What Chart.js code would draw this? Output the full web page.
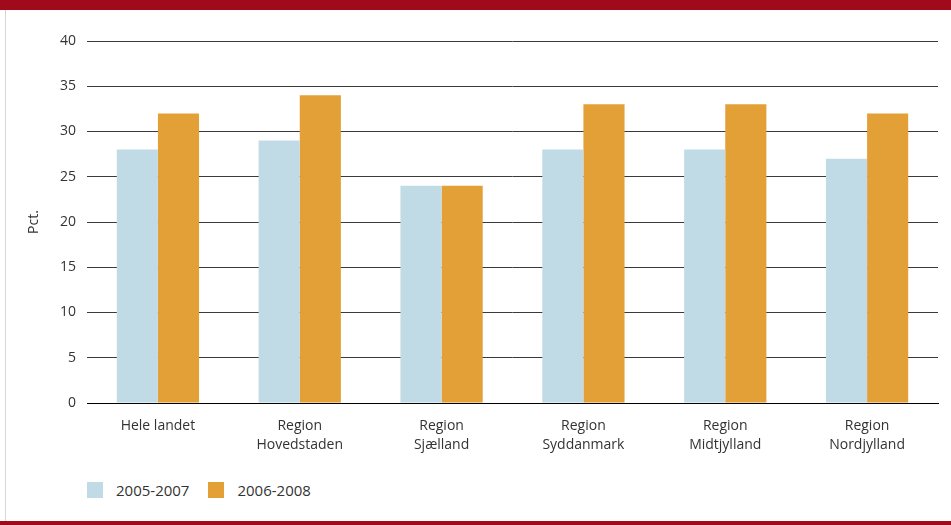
<!DOCTYPE html>
<html>
<head>
<meta charset="utf-8">
<script src="https://cdn.jsdelivr.net/npm/chart.js@4.4.1/dist/chart.umd.min.js"></script>
<style>
  html, body { margin: 0; padding: 0; background: #fff; }
  body { width: 951px; height: 525px; position: relative; overflow: hidden; font-family: "Open Sans", sans-serif; }
  .bar-top { position: absolute; left: 0; top: 0; width: 951px; height: 10px; background: #a10a1b; }
  .bar-bottom { position: absolute; left: 0; top: 521px; width: 951px; height: 4px; background: #a10a1b; }
  .side-line { position: absolute; left: 5px; top: 10px; width: 1px; height: 511px; background: #d6d6d6; }
  .chart-box { position: absolute; left: 0; top: 0; width: 951px; height: 470px; }
  #legend { position: absolute; left: 87px; top: 480px; display: flex; font-size: 15px; color: #333; }
  #legend .item { display: flex; align-items: center; margin-right: 19px; }
  #legend .swatch { width: 16px; height: 16px; margin-right: 13px; }
</style>
</head>
<body>
<div class="bar-top"></div>
<div class="side-line"></div>
<div class="chart-box"><canvas id="chart"></canvas></div>
<div id="legend"></div>
<div class="bar-bottom"></div>
<script>
// data
const categories = [
    'Hele landet',
    ['Region', 'Hovedstaden'],
    ['Region', 'Sjælland'],
    ['Region', 'Syddanmark'],
    ['Region', 'Midtjylland'],
    ['Region', 'Nordjylland']
];
const seriesNames = ['2005-2007', '2006-2008'];
const values2005 = [28, 29, 24, 28, 28, 27];
const values2006 = [32, 34, 24, 33, 33, 32];
const yTicks = [0, 5, 10, 15, 20, 25, 30, 35, 40];

const colors = ['#c1dbe6', '#e3a037'];
const textColor = '#333333';

const chart = new Chart(document.getElementById('chart'), {
    type: 'bar',
    data: {
        labels: categories,
        datasets: [
            { label: seriesNames[0], data: values2005, backgroundColor: colors[0] },
            { label: seriesNames[1], data: values2006, backgroundColor: colors[1] }
        ]
    },
    options: {
        responsive: true,
        maintainAspectRatio: false,
        animation: false,
        layout: { padding: { top: 41, right: 13, bottom: 0, left: 0 } },
        datasets: { bar: { categoryPercentage: 0.58, barPercentage: 1 } },
        plugins: { legend: { display: false }, tooltip: { enabled: false } },
        scales: {
            x: {
                grid: { display: false },
                border: { display: true, color: '#000', width: 1 },
                ticks: { color: textColor, font: { family: 'Open Sans', size: 14, lineHeight: 1.35 }, padding: 6, maxRotation: 0 },
                afterFit: (scale) => { scale.height = 67; }
            },
            y: {
                min: 0,
                max: 40,
                afterBuildTicks: (scale) => { scale.ticks = yTicks.map(v => ({ value: v })); },
                grid: { color: '#3a3a3a', lineWidth: 1, drawTicks: false },
                border: { display: false },
                ticks: { color: textColor, font: { family: 'Open Sans', size: 14 }, padding: 11 },
                title: { display: true, text: 'Pct.', color: textColor, font: { family: 'Open Sans', size: 14 }, padding: { top: 26, bottom: 0 } },
                afterFit: (scale) => { scale.width = 87; }
            }
        }
    }
});

// legend built from the chart's datasets
const legendEl = document.getElementById('legend');
chart.data.datasets.forEach(ds => {
    const item = document.createElement('div');
    item.className = 'item';
    item.innerHTML = `<span class="swatch" style="background:${ds.backgroundColor}"></span><span>${ds.label}</span>`;
    legendEl.appendChild(item);
});
</script>
</body>
</html>
